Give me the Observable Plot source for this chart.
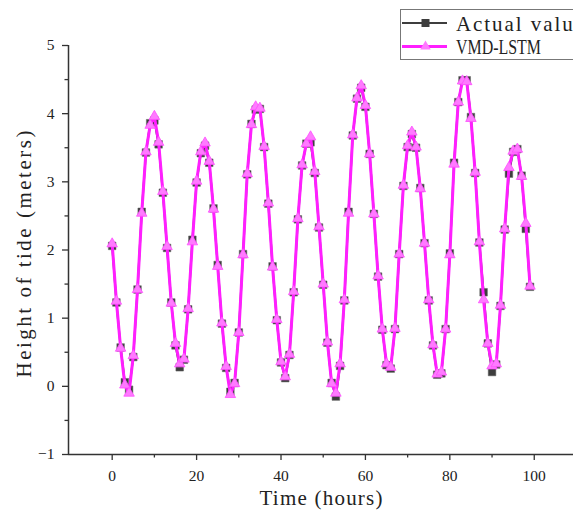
<!DOCTYPE html>
<html>
<head>
<meta charset="utf-8">
<script src="https://cdn.jsdelivr.net/npm/d3@7"></script>
<script src="https://cdn.jsdelivr.net/npm/@observablehq/plot@0.6"></script>
<style>
  html, body { margin: 0; padding: 0; background: #fff; overflow: hidden; }
  #wrap { position: relative; width: 573px; height: 517px; overflow: hidden; }
  #legend { position: absolute; left: 400px; top: 9px; }
</style>
</head>
<body>
<div id="wrap"></div>
<script>
// ---- data ----
const hours = [0,1,2,3,4,5,6,7,8,9,10,11,12,13,14,15,16,17,18,19,20,21,22,23,24,25,26,27,28,29,30,31,32,33,34,35,36,37,38,39,40,41,42,43,44,45,46,47,48,49,50,51,52,53,54,55,56,57,58,59,60,61,62,63,64,65,66,67,68,69,70,71,72,73,74,75,76,77,78,79,80,81,82,83,84,85,86,87,88,89,90,91,92,93,94,95,96,97,98,99];
const actual = [2.06,1.23,0.57,0.06,-0.05,0.43,1.42,2.56,3.43,3.86,3.90,3.55,2.84,2.03,1.23,0.60,0.28,0.39,1.13,2.15,2.99,3.42,3.53,3.28,2.61,1.78,0.92,0.27,-0.08,0.05,0.79,1.94,3.11,3.85,4.06,4.07,3.51,2.68,1.76,0.97,0.35,0.12,0.46,1.38,2.45,3.24,3.56,3.58,3.13,2.33,1.49,0.64,0.05,-0.15,0.30,1.26,2.56,3.68,4.22,4.38,4.10,3.41,2.53,1.61,0.83,0.31,0.26,0.84,1.94,2.94,3.51,3.70,3.50,2.91,2.10,1.26,0.60,0.17,0.19,0.84,1.95,3.28,4.17,4.49,4.49,3.95,3.13,2.11,1.38,0.63,0.21,0.32,1.18,2.30,3.12,3.44,3.48,3.09,2.31,1.46];
const vmdLstm = [2.09,1.25,0.56,0.02,-0.10,0.45,1.42,2.54,3.44,3.83,3.96,3.58,2.86,2.05,1.22,0.63,0.33,0.40,1.14,2.12,3.01,3.44,3.57,3.30,2.60,1.76,0.93,0.29,-0.12,0.04,0.79,1.93,3.12,3.84,4.10,4.08,3.52,2.69,1.75,0.98,0.36,0.14,0.47,1.39,2.46,3.25,3.56,3.66,3.15,2.34,1.50,0.65,0.04,-0.10,0.33,1.27,2.54,3.69,4.23,4.41,4.12,3.41,2.53,1.62,0.84,0.33,0.28,0.85,1.94,2.95,3.53,3.73,3.51,2.90,2.10,1.27,0.61,0.18,0.21,0.84,1.93,3.26,4.17,4.48,4.47,3.93,3.14,2.12,1.27,0.63,0.30,0.33,1.19,2.31,3.21,3.45,3.48,3.08,2.39,1.47];
const seriesNames = ["Actual values", "VMD-LSTM"];
const xDomain = [-10.35, 109.3];
const yDomain = [-1, 5];
const xMajor = [0, 20, 40, 60, 80, 100];
const xMinor = [10, 30, 50, 70, 90];
const yMajor = [-1, 0, 1, 2, 3, 4, 5];
const yMinor = [-0.5, 0.5, 1.5, 2.5, 3.5, 4.5];
const xTitle = "Time (hours)";
const yTitle = "Height of tide (meters)";

const rows = hours.map((h, i) => ({hour: h, actual: actual[i], pred: vmdLstm[i]}));

const axisColor = "#333";
const grayC = "#3d3d3d";
const magC = "#ff1fff";
const triFill = "#ff7aff";
const titleFont = "'Liberation Serif', 'Times New Roman', serif";
const tickFont = "'Liberation Serif', 'Times New Roman', serif";
const intFmt = d => (d < 0 ? "\u2212" + Math.abs(d) : String(d));

const chart = Plot.plot({
  width: 573,
  height: 517,
  marginLeft: 68,
  marginRight: 0,
  marginTop: 45,
  marginBottom: 63,
  style: {fontFamily: tickFont, fontSize: "15.5px", color: "#222", background: "#fff", overflow: "visible"},
  x: {domain: xDomain},
  y: {domain: yDomain},
  marks: [
    Plot.axisX({ticks: xMajor, tickFormat: intFmt, tickSize: 6, tickPadding: 9, label: null, stroke: axisColor, strokeWidth: 1.3, fontSize: 15.5, fontFamily: tickFont}),
    Plot.axisX({ticks: xMinor, tickSize: 3.5, tickFormat: () => "", label: null, stroke: axisColor, strokeWidth: 1.3}),
    Plot.axisY({ticks: yMajor, tickFormat: intFmt, tickSize: 6, tickPadding: 8, label: null, stroke: axisColor, strokeWidth: 1.3, fontSize: 15.5, fontFamily: tickFont}),
    Plot.axisY({ticks: yMinor, tickSize: 3.5, tickFormat: () => "", label: null, stroke: axisColor, strokeWidth: 1.3}),
    Plot.ruleX([xDomain[0]], {stroke: axisColor, strokeWidth: 1.5}),
    Plot.ruleY([yDomain[0]], {stroke: axisColor, strokeWidth: 1.5}),
    Plot.line(rows, {x: "hour", y: "actual", stroke: grayC, strokeWidth: 2}),
    Plot.dot(rows, {x: "hour", y: "actual", symbol: "square", r: 4.3, fill: grayC, stroke: "#666", strokeWidth: 0.5}),
    Plot.line(rows, {x: "hour", y: "pred", stroke: magC, strokeWidth: 3}),
    Plot.dot(rows, {x: "hour", y: "pred", symbol: "triangle", r: 3.9, fill: triFill, stroke: "#ff4dff", strokeWidth: 0.8}),
    Plot.text([xTitle], {frameAnchor: "bottom", dy: 50, fontSize: 21, fontFamily: titleFont, fill: "#222"}),
    Plot.text([yTitle], {frameAnchor: "left", rotate: -90, dx: -44, dy: 4, fontSize: 21, fontFamily: titleFont, fill: "#222"})
  ]
});

// spread the titles to the wide, evenly-spaced look of the original, anchoring manually at the centre
const lengths = {};
lengths[xTitle] = 123;
lengths[yTitle] = 247;
d3.select(chart).selectAll("text").each(function () {
  const t = this.textContent;
  if (lengths[t]) {
    const el = d3.select(this);
    const x0 = +(el.attr("x") || 0);
    el.attr("text-anchor", "start")
      .attr("x", x0 - lengths[t] / 2)
      .attr("textLength", lengths[t])
      .attr("lengthAdjust", "spacing");
  }
});

const wrap = document.getElementById("wrap");
wrap.appendChild(chart);

// ---- legend ----
const lg = d3.create("svg").attr("id", "legend").attr("width", 200).attr("height", 52);
lg.append("rect").attr("x", 0.5).attr("y", 0.5).attr("width", 250).attr("height", 50)
  .attr("fill", "#fff").attr("stroke", "#777").attr("stroke-width", 1);
const items = [
  {name: seriesNames[0], y: 14, color: grayC, sw: 2, sym: d3.symbolSquare, size: 64, fill: grayC, len: 138, adj: "spacing"},
  {name: seriesNames[1], y: 37.5, color: magC, sw: 3, sym: d3.symbolTriangle, size: 48, fill: triFill, len: 85, adj: "spacingAndGlyphs"}
];
items.forEach(it => {
  lg.append("line").attr("x1", 2).attr("x2", 47).attr("y1", it.y).attr("y2", it.y)
    .attr("stroke", it.color).attr("stroke-width", it.sw);
  lg.append("path").attr("d", d3.symbol(it.sym, it.size)()).attr("transform", `translate(25.5,${it.y})`)
    .attr("fill", it.fill);
  lg.append("text").attr("x", 56).attr("y", it.y).attr("dy", "0.36em")
    .attr("font-family", titleFont).attr("font-size", 21).attr("fill", "#222")
    .attr("textLength", it.len).attr("lengthAdjust", it.adj).text(it.name);
});
wrap.appendChild(lg.node());
</script>
</body>
</html>
